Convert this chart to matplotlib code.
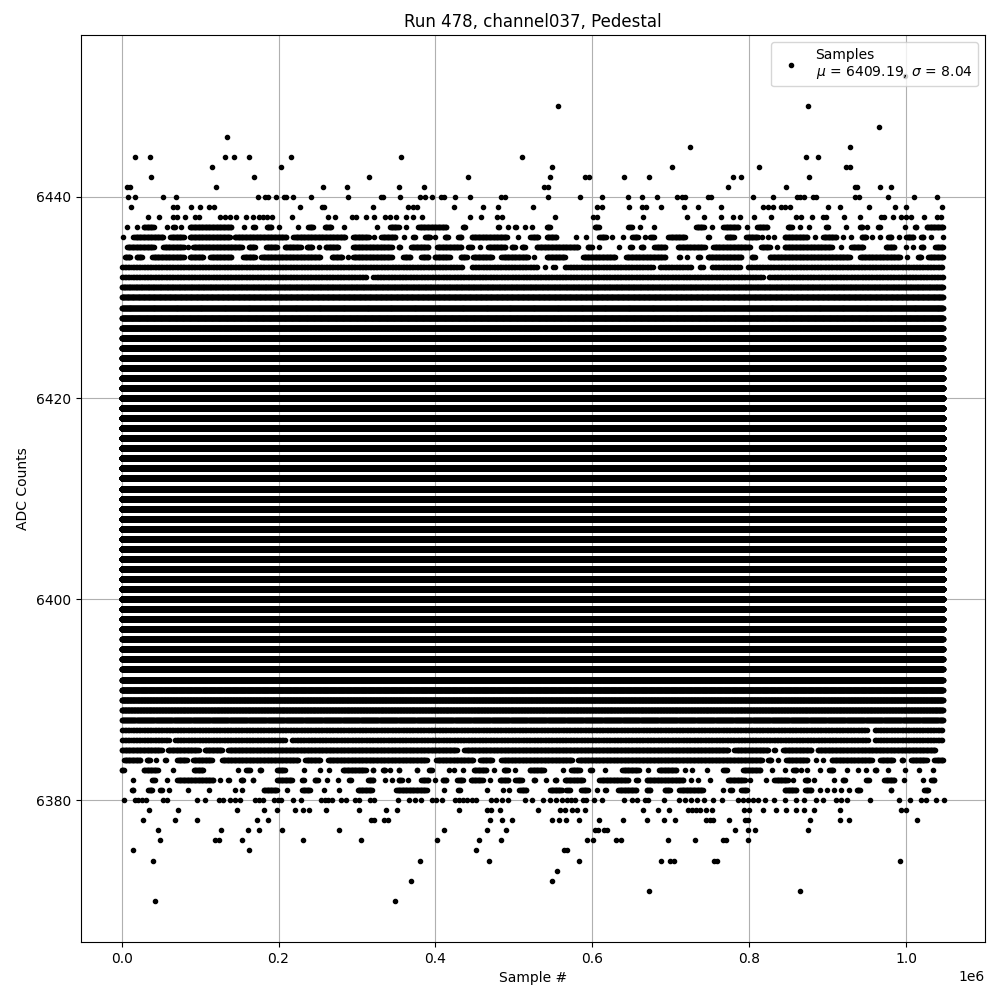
import numpy as np
import matplotlib
matplotlib.use("Agg")
import matplotlib.pyplot as plt

TITLE = "Run 478, channel037, Pedestal"
XLABEL = "Sample #"
YLABEL = "ADC Counts"
LEGEND = "Samples\n$\\mu$ = 6409.19, $\\sigma$ = 8.04"

# Isolated samples, read one by one: sample number in thousands, per ADC level
pts_6452 = [999]
pts_6449 = [556.5, 875]
pts_6447 = [965.4]
pts_6446 = [134.8]
pts_6445 = [724.6, 928.4]
pts_6444 = [17.6, 36.7, 131.4, 143.7, 162.8, 216.3, 356.5, 510.6, 872.4, 887.7]
pts_6443 = [115.7, 203.6, 548.8, 701.7, 812.5, 923.4, 928.4]
pts_6442 = [38, 169.2, 315.7, 441.8, 546.3, 590.5, 595.6, 640.6, 672.4, 779.4, 789.6, 876.2]
pts_6441 = [7.4, 10.8, 120.8, 257.1, 287.7, 353.9, 385.8, 538.7, 543.8, 773, 846.9, 934.4, 937.8, 966.7, 980.7]
pts_6440 = [8.7, 17.6, 53.3, 69.8, 174.3, 182.8, 187, 197.2, 207.4, 209.6, 218.9, 241.8, 288.9, 330.1, 333.5,
            355.2, 380.6, 387, 396, 406.6, 411.2, 425.2, 444.4, 483.8, 488.5, 543.8, 584.5, 612.5, 645.7, 663.5,
            682.6, 708.1, 714.4, 718.3, 747.6, 751.4, 804.9, 830.4, 860.9, 865.2, 869.4, 881.3, 884.7, 935.2,
            939.5, 976.9, 1010, 1039.3]
pts_6439 = [12.5, 66, 70.3, 89, 100.4, 111.5, 118.2, 227.8, 255.4, 258, 320.8, 365.4, 371.7, 376, 424, 460.9, 480,
            524.6, 606.2, 612.5, 646.9, 663.5, 668.6, 687.7, 717, 734.8, 764.1, 817.6, 824, 830.4, 840.6, 845.6,
            852, 900.4, 915.7, 952.6, 985.8, 999.8, 1045.6]
pts_6438 = [34.2, 48.2, 66, 70.3, 81.3, 93.6, 99.1, 125.9, 131.8, 138.2, 145.8, 159, 167.9, 175.6, 180.7, 185, 192.1,
            217.6, 263.5, 272, 294, 298.7, 311.9, 322, 336, 342, 350, 362.8, 371.7, 383.2, 444.4, 458.4, 477.9, 484.2,
            552.7, 601, 605.3, 664.8, 720.8, 742.5, 764.1, 779.4, 787.9, 806.2, 827.8, 860.1, 866.5, 880, 894, 898.3,
            920.8, 940.8, 968.4, 971.3, 983.2, 993.4, 1000.2, 1005.7, 1022.7, 1039.3, 1044.4]
pts_6380 = [3.6, 17.2, 21.4, 25.7, 31.2, 53.3, 57.5, 96.6, 106.8, 124.6, 129.7, 138.6, 144.6, 151, 170.5, 175.6, 180.7,
            194.7, 199.8, 203.6, 218.9, 229.1, 254.5, 259.6, 263.5, 268.6, 279.6, 286, 297.9, 303, 316.5, 322, 352.6,
            365.8, 374.3, 381, 396, 400.6, 408.7, 425.2, 430.3, 435.4, 440.5, 446.9, 451.1, 470.7, 477, 484.2, 492.8,
            514.4, 522.5, 537.4, 545.9, 553.9, 561.6, 568, 573, 577.7, 588.3, 591.7, 602.3, 612.5, 640.6, 649.9, 656.3,
            666.9, 671.1, 691.5, 710.6, 718.3, 725.9, 733.5, 742.5, 753.9, 765.4, 785.8, 792, 798, 804.9, 811.3, 819.7,
            831.6, 845.6, 859.7, 869.8, 885.6, 894.1, 910.6, 917.4, 924.6, 953.9, 990.9, 1004.9, 1019.3, 1025.7, 1038, 1048]
pts_6379 = [35.5, 72.4, 147.5, 182, 198.5, 221.4, 231.6, 239.2, 260.9, 303, 337.4, 351.3, 430.3, 466, 470.2, 482.6,
            531, 559, 565.4, 574.3, 580.7, 590.9, 664.8, 683.9, 697.9, 722.1, 727.2, 732.7, 737.8, 744.6, 752.7, 793.4,
            799.8, 817.6, 834.2, 846.9, 859.7, 869.8, 882.6, 915.7, 993.4, 1000.2]
pts_6378 = [27.8, 68.6, 96.6, 173, 187, 318.2, 321.6, 334.8, 339.9, 469.8, 485.1, 497.8, 548.8, 557.8, 566.7, 583.2,
            608.7, 639.3, 669.9, 691.5, 705.5, 745.4, 749.7, 753.1, 774.3, 794.7, 798.1, 877.5, 915.7, 927.2, 1013.8]
pts_6377 = [47, 127.2, 161.6, 175.6, 204.9, 277.5, 411.2, 466, 490.2, 603.6, 607.4, 614.7, 618.9, 781.5, 798.5, 807.4, 875]
pts_6376 = [49.5, 119.5, 124.6, 153.9, 231.6, 305.5, 402.3, 455.8, 483.8, 593.4, 601, 630.4, 636.7, 696.6, 731, 766.7,
            770.1, 798.5]
pts_6375 = [15, 162.8, 452, 564.1, 568]
pts_6374 = [40.5, 380.6, 468.5, 583.2, 687.7, 698.7, 703.8, 754.8, 758.2, 992.1]
pts_6373 = [555.2]
pts_6372 = [369.2, 548.8]
pts_6371 = [672.4, 864.8]
pts_6370 = [43.1, 348.8]

sparse_levels = [6452, 6449, 6447, 6446, 6445, 6444, 6443, 6442, 6441, 6440, 6439, 6438,
                 6380, 6379, 6378, 6377, 6376, 6375, 6374, 6373, 6372, 6371, 6370]
sparse_values = [pts_6452, pts_6449, pts_6447, pts_6446, pts_6445, pts_6444, pts_6443, pts_6442, pts_6441,
                 pts_6440, pts_6439, pts_6438, pts_6380, pts_6379, pts_6378, pts_6377, pts_6376, pts_6375,
                 pts_6374, pts_6373, pts_6372, pts_6371, pts_6370]

# Busy levels: runs of samples (first, last) in thousands
runs_6437 = [(7, 7), (19, 19), (26, 43), (58, 58), (64, 70), (76, 76), (85, 142), (156, 156), (166, 172), (183, 193),
             (200, 200), (225, 225), (236, 246), (257, 269), (283, 283), (325, 325), (340, 355), (363, 363), (376, 416),
             (433, 440), (478, 483), (493, 493), (500, 505), (514, 514), (523, 523), (542, 546), (601, 610), (646, 650),
             (661, 661), (678, 678), (730, 744), (753, 753), (765, 788), (797, 797), (808, 825), (847, 856), (864, 864),
             (876, 876), (896, 902), (923, 923), (941, 944), (950, 950), (962, 968), (999, 999), (1009, 1015), (1024, 1047)]
runs_6436 = [(2, 2), (13, 55), (60, 81), (85, 140), (142, 212), (217, 287), (293, 317), (322, 322), (329, 351), (360, 360),
             (370, 376), (385, 395), (400, 400), (410, 418), (427, 435), (444, 493), (505, 505), (519, 533), (540, 556),
             (579, 579), (592, 592), (607, 619), (625, 625), (639, 639), (649, 660), (667, 667), (674, 678), (695, 720),
             (745, 750), (769, 782), (794, 813), (816, 816), (824, 824), (832, 832), (843, 876), (884, 884), (892, 913),
             (919, 919), (929, 929), (941, 951), (957, 957), (966, 966), (975, 983), (991, 991), (998, 1011), (1017, 1024),
             (1031, 1031), (1047, 1047)]
runs_6435 = [(5, 43), (51, 81), (84, 84), (89, 155), (160, 172), (182, 200), (206, 230), (234, 245), (251, 251), (258, 278),
             (293, 346), (351, 357), (367, 393), (400, 435), (440, 448), (457, 457), (465, 491), (497, 501), (508, 516),
             (527, 584), (592, 601), (609, 609), (634, 634), (646, 652), (660, 667), (677, 695), (707, 745), (752, 803),
             (813, 828), (835, 835), (843, 907), (917, 917), (928, 947), (972, 987), (1000, 1000), (1009, 1009),
             (1017, 1024), (1035, 1047)]
runs_6434 = [(2, 13), (17, 28), (37, 81), (85, 106), (111, 142), (153, 172), (176, 255), (266, 283), (288, 288), (293, 346),
             (357, 370), (380, 393), (397, 420), (430, 442), (446, 474), (482, 520), (525, 525), (540, 567), (586, 631),
             (641, 695), (709, 714), (721, 721), (733, 739), (745, 792), (801, 809), (824, 930), (939, 994), (1001, 1001),
             (1015, 1019), (1026, 1047)]
runs_6433 = [(0, 436), (444, 533), (539, 539), (548, 554), (563, 680), (684, 728), (737, 741), (750, 790), (796, 1047)]
runs_6432 = [(0, 314), (319, 820), (823, 1047)]
runs_6387 = [(0, 953), (958, 1047)]
runs_6386 = [(0, 62), (66, 210), (215, 953), (958, 1047)]
runs_6385 = [(0, 53), (57, 100), (104, 130), (134, 429), (435, 775), (779, 826), (830, 835), (841, 881), (885, 1039)]
runs_6384 = [(1, 26), (30, 38), (44, 44), (53, 58), (69, 85), (89, 117), (126, 227), (232, 255), (261, 391), (399, 450),
             (455, 474), (482, 576), (580, 818), (822, 830), (837, 837), (845, 876), (885, 885), (894, 894), (903, 958),
             (965, 985), (992, 998), (1004, 1028), (1034, 1047)]
runs_6383 = [(0, 5), (26, 48), (66, 66), (90, 106), (148, 148), (157, 165), (174, 180), (196, 210), (232, 232), (253, 253),
             (264, 264), (280, 313), (318, 323), (333, 336), (342, 342), (351, 356), (374, 379), (390, 397), (417, 417),
             (424, 424), (435, 435), (447, 467), (474, 474), (485, 494), (502, 502), (518, 540), (563, 563), (571, 586),
             (595, 601), (616, 616), (636, 661), (671, 671), (683, 709), (718, 718), (727, 727), (746, 746), (767, 771),
             (790, 816), (829, 829), (846, 846), (856, 860), (866, 866), (874, 874), (890, 890), (900, 909), (924, 924),
             (939, 939), (949, 949), (958, 964), (977, 977), (999, 999), (1016, 1016), (1034, 1034)]
runs_6382 = [(14, 14), (37, 44), (58, 58), (69, 119), (125, 125), (134, 139), (150, 157), (165, 170), (196, 219), (228, 234),
             (244, 252), (262, 262), (276, 276), (288, 294), (312, 323), (336, 336), (345, 345), (351, 359), (365, 365),
             (380, 393), (400, 400), (407, 416), (426, 437), (443, 462), (470, 470), (480, 495), (500, 512), (525, 527),
             (541, 541), (550, 556), (563, 590), (607, 648), (654, 660), (667, 718), (726, 726), (735, 735), (750, 750),
             (771, 796), (801, 801), (821, 821), (830, 851), (856, 856), (869, 877), (883, 883), (908, 908), (917, 924),
             (947, 954), (970, 987), (997, 997), (1021, 1021), (1030, 1038)]
runs_6381 = [(11, 17), (32, 41), (47, 53), (61, 61), (84, 84), (111, 111), (145, 145), (154, 154), (179, 200), (211, 211),
             (228, 242), (258, 258), (277, 277), (299, 321), (348, 391), (411, 411), (427, 433), (466, 466), (486, 486),
             (494, 494), (505, 518), (544, 563), (565, 573), (584, 596), (606, 606), (614, 619), (631, 658), (667, 676),
             (690, 701), (709, 743), (767, 767), (774, 780), (788, 799), (843, 862), (869, 881), (890, 890), (899, 899),
             (908, 908), (917, 917), (927, 927), (935, 943), (978, 983), (1021, 1030)]

run_levels = [6437, 6436, 6435, 6434, 6433, 6432, 6387, 6386, 6385, 6384, 6383, 6382, 6381]
run_values = [runs_6437, runs_6436, runs_6435, runs_6434, runs_6433, runs_6432,
              runs_6387, runs_6386, runs_6385, runs_6384, runs_6383, runs_6382, runs_6381]
run_spacing = [1, 1, 1, 1, 2, 2, 2, 2, 1, 1, 1, 1, 1]

# Levels occupied over the whole run, with the approximate number of samples on each
full_levels = list(range(6388, 6432))
full_counts = [1600, 2200, 3000, 4000, 5300, 6900, 8700, 11000, 6000, 16500, 19800, 23300, 27100, 31000, 34900, 38700,
               42200, 45400, 48100, 50100, 51400, 52000, 51700, 50700, 48900, 46500, 43500, 40100, 36400, 32400, 28600,
               24700, 21100, 17700, 14600, 11900, 9600, 7500, 5900, 4500, 3400, 2500, 1800, 1300]
LAST_SAMPLE = 1047  # thousands

x_parts, y_parts = [], []
for level, values in zip(sparse_levels, sparse_values):
    x_parts.append(np.array(values, dtype=float))
    y_parts.append(np.full(len(values), level))
for level, runs, spacing in zip(run_levels, run_values, run_spacing):
    for a, b in runs:
        # run edges were read at the outside of the dots
        if b - a > 4:
            a = a + 2 if a > 0 else a
            b = b - 2 if b < LAST_SAMPLE else b
        run = np.arange(a, b + 1, spacing, dtype=float)
        x_parts.append(run)
        y_parts.append(np.full(len(run), level))
for level, count in zip(full_levels, full_counts):
    run = np.linspace(0, LAST_SAMPLE, count)
    x_parts.append(run)
    y_parts.append(np.full(count, level))

fig, ax = plt.subplots(figsize=(10, 10), dpi=100)
ax.plot(np.concatenate(x_parts) * 1000, np.concatenate(y_parts), "k.", label=LEGEND)
ax.set_title(TITLE)
ax.set_xlabel(XLABEL)
ax.set_ylabel(YLABEL)
ax.grid(True)
ax.legend(loc="upper right")
fig.subplots_adjust(left=0.0805, right=0.985, top=0.965, bottom=0.058)
fig.savefig("out.png", dpi=100)
